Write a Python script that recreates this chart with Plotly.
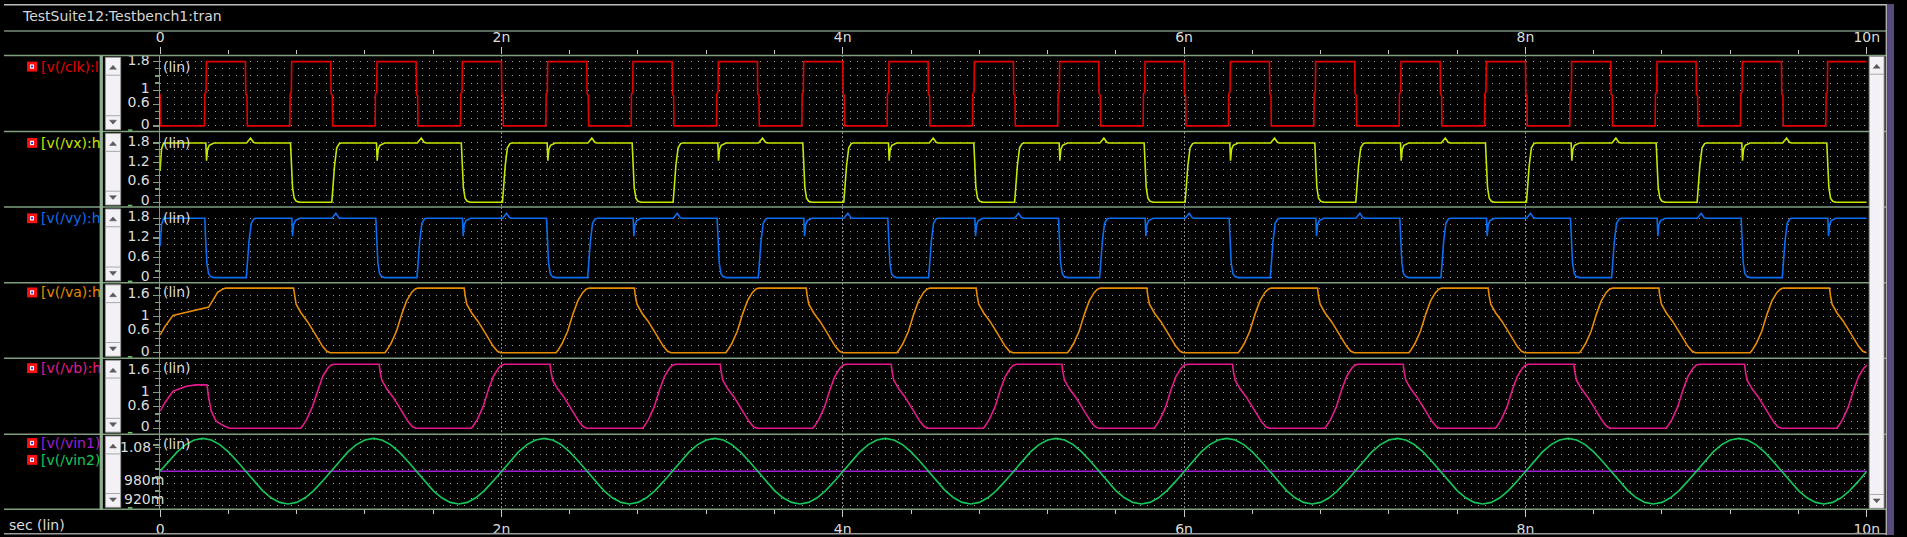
import plotly.graph_objects as go

W, H = 1907, 537

# ---------------- DATA (time in ns, voltage in V) ----------------
# clk
clk_start_t = [0.0, 0.004]
clk_start_v = [0.9, 0.0]
clk_rise_times = [0.26, 0.76, 1.26, 1.76, 2.26, 2.76, 3.26, 3.76, 4.26, 4.76,
                  5.26, 5.76, 6.26, 6.76, 7.26, 7.76, 8.26, 8.76, 9.26, 9.76]
clk_fall_times = [0.50, 1.00, 1.50, 2.00, 2.50, 3.00, 3.50, 4.00, 4.50, 5.00,
                  5.50, 6.00, 6.50, 7.00, 7.50, 8.00, 8.50, 9.00, 9.50]
clk_rise_dt = [0.0, 0.002, 0.009, 0.011]
clk_rise_v = [0.0, 0.9, 0.95, 1.8]
clk_fall_dt = [0.0, 0.002, 0.009, 0.011]
clk_fall_v = [1.8, 0.9, 0.85, 0.0]

# vx / vy edge shapes (offset from event time)
edge_rise_dt = [0.0, 0.006, 0.016, 0.029, 0.044, 0.055]
edge_rise_v = [0.0, 0.4, 1.1, 1.65, 1.78, 1.8]
edge_fall_dt = [0.0, 0.004, 0.012, 0.022, 0.034, 0.054]
edge_fall_v = [1.8, 1.25, 0.45, 0.12, 0.03, 0.0]
dip_dt = [0.0, 0.004, 0.010, 0.020, 0.048]
dip_v = [1.8, 1.26, 1.60, 1.73, 1.8]
bump_dt = [0.0, 0.023, 0.040, 0.052]
bump_v = [1.8, 1.95, 1.82, 1.8]

vx_start_t = [0.0, 0.008, 0.020]
vx_start_v = [0.95, 1.6, 1.8]
vx_rise_times = [1.006, 2.006, 3.006, 4.006, 5.007, 6.006, 7.006, 8.006, 9.006]
vx_dip_times = [0.268, 1.268, 2.268, 3.268, 4.268, 5.268, 6.268, 7.268, 8.268, 9.268]
vx_bump_times = [0.507, 1.507, 2.507, 3.507, 4.507, 5.507, 6.507, 7.507, 8.507, 9.507]
vx_fall_times = [0.764, 1.765, 2.766, 3.766, 4.768, 5.766, 6.766, 7.766, 8.766, 9.766]

vy_start_t = [0.0, 0.008, 0.020]
vy_start_v = [0.95, 1.6, 1.8]
vy_fall_times = [0.262, 1.264, 2.264, 3.264, 4.264, 5.264, 6.264, 7.264, 8.264, 9.264]
vy_rise_times = [0.505, 1.505, 2.505, 3.505, 4.503, 5.505, 6.505, 7.505, 8.505, 9.505]
vy_dip_times = [0.772, 1.772, 2.772, 3.772, 4.774, 5.772, 6.772, 7.772, 8.772, 9.772]
vy_bump_times = [1.007, 2.007, 3.007, 4.007, 5.007, 6.007, 7.007, 8.007, 9.007]

# va / vb slow edge shapes
slow_rise_dt = [0.0, 0.010, 0.035, 0.068, 0.100, 0.128, 0.157, 0.176, 0.194]
slow_rise_v = [0.0, 0.06, 0.25, 0.60, 1.09, 1.45, 1.68, 1.77, 1.8]
slow_fall_dt = [0.0, 0.005, 0.015, 0.045, 0.080, 0.110, 0.140, 0.170, 0.195, 0.215]
slow_fall_v = [1.8, 1.6, 1.35, 1.10, 0.88, 0.65, 0.42, 0.18, 0.04, 0.0]

va_start_t = [0.0, 0.027, 0.076, 0.153, 0.231, 0.285, 0.308, 0.337, 0.366, 0.385]
va_start_v = [0.49, 0.72, 1.04, 1.13, 1.22, 1.27, 1.45, 1.68, 1.77, 1.8]
va_rise_times = [1.317, 2.320, 3.314, 4.317, 5.317, 6.317, 7.317, 8.317, 9.317]
va_fall_times = [0.782, 1.782, 2.779, 3.786, 4.782, 5.782, 6.782, 7.782, 8.782, 9.782]

vb_start_t = [0.0, 0.010, 0.027, 0.076, 0.153, 0.210, 0.275, 0.283, 0.300, 0.328, 0.376, 0.405]
vb_start_v = [0.48, 0.58, 0.71, 1.04, 1.18, 1.22, 1.22, 0.90, 0.48, 0.20, 0.06, 0.0]
vb_rise_times = [0.824, 1.824, 2.827, 3.825, 4.824, 5.824, 6.824, 7.824, 8.824, 9.824]
vb_fall_times = [1.284, 2.285, 3.282, 4.284, 5.284, 6.284, 7.284, 8.284, 9.284]

# vin1 / vin2
vin1_t = [0.0, 10.0]
vin1_v = [1.0, 1.0]
vin2_cycle_dt = [0.00, 0.05, 0.10, 0.15, 0.20, 0.25, 0.30, 0.35, 0.40, 0.45,
                 0.50, 0.55, 0.60, 0.65, 0.70, 0.75, 0.80, 0.85, 0.90, 0.95]
vin2_cycle_v = [1.000, 1.031, 1.059, 1.081, 1.095, 1.100, 1.095, 1.081, 1.059, 1.031,
                1.000, 0.969, 0.941, 0.919, 0.905, 0.900, 0.905, 0.919, 0.941, 0.969]
vin2_cycle_starts = [0.0, 1.0, 2.0, 3.0, 4.0, 5.0, 6.0, 7.0, 8.0, 9.0]
vin2_end = (10.0, 1.0)

x_tick_vals = [0, 2, 4, 6, 8, 10]
x_tick_text = ["0", "2n", "4n", "6n", "8n", "10n"]

panel_names = ["[v(/clk):l", "[v(/vx):h", "[v(/vy):h", "[v(/va):h", "[v(/vb):h"]
vin_names = ["[v(/vin1)", "[v(/vin2)"]
y_tick_vals = [[0, 0.6, 1, 1.8], [0, 0.6, 1.2, 1.8], [0, 0.6, 1.2, 1.8],
               [0, 0.6, 1, 1.6], [0, 0.6, 1, 1.6], [0.92, 0.98, 1.08]]
y_tick_text = [["0", "0.6", "1", "1.8"], ["0", "0.6", "1.2", "1.8"], ["0", "0.6", "1.2", "1.8"],
               ["0", "0.6", "1", "1.6"], ["0", "0.6", "1", "1.6"], ["920m", "980m", "1.08"]]


def build(start_t, start_v, events, t_end=10.0):
    ts, vs = list(start_t), list(start_v)
    for t0, dts, vals in sorted(events, key=lambda e: e[0]):
        for d, v in zip(dts, vals):
            ts.append(t0 + d)
            vs.append(v)
    if ts[-1] < t_end:
        ts.append(t_end)
        vs.append(vs[-1])
    return ts, vs


clk_t, clk_v = build(clk_start_t, clk_start_v,
                     [(t, clk_rise_dt, clk_rise_v) for t in clk_rise_times] +
                     [(t, clk_fall_dt, clk_fall_v) for t in clk_fall_times])
vx_t, vx_v = build(vx_start_t, vx_start_v,
                   [(t, edge_rise_dt, edge_rise_v) for t in vx_rise_times] +
                   [(t, dip_dt, dip_v) for t in vx_dip_times] +
                   [(t, bump_dt, bump_v) for t in vx_bump_times] +
                   [(t, edge_fall_dt, edge_fall_v) for t in vx_fall_times])
vy_t, vy_v = build(vy_start_t, vy_start_v,
                   [(t, edge_rise_dt, edge_rise_v) for t in vy_rise_times] +
                   [(t, dip_dt, dip_v) for t in vy_dip_times] +
                   [(t, bump_dt, bump_v) for t in vy_bump_times] +
                   [(t, edge_fall_dt, edge_fall_v) for t in vy_fall_times])
va_t, va_v = build(va_start_t, va_start_v,
                   [(t, slow_rise_dt, slow_rise_v) for t in va_rise_times] +
                   [(t, slow_fall_dt, slow_fall_v) for t in va_fall_times])
vb_t, vb_v = build(vb_start_t, vb_start_v,
                   [(t, slow_rise_dt, slow_rise_v) for t in vb_rise_times] +
                   [(t, slow_fall_dt, slow_fall_v) for t in vb_fall_times])
vin2_t, vin2_v = [], []
for s in vin2_cycle_starts:
    for d, v in zip(vin2_cycle_dt, vin2_cycle_v):
        vin2_t.append(s + d)
        vin2_v.append(v)
vin2_t.append(vin2_end[0])
vin2_v.append(vin2_end[1])

# ---------------- STYLE / LAYOUT ----------------
FONT = "DejaVu Sans"
GREEN = "#7f9f7f"
TXT = "#dcdcdc"
DOT = "#a0a0a0"
colors = ["#e60000", "#c8e600", "#0a6ef0", "#e68c00", "#e6198c"]
vin_colors = ["#a01ed2", "#14c85a"]

panels = [(52, 129), (129, 205.3), (205.3, 282), (282, 358.3), (358.3, 435), (435, 511)]
y_ranges = [[-0.158, 1.974], [-0.144, 2.145], [-0.159, 2.142],
            [-0.154, 1.946], [-0.167, 1.967], [0.884, 1.113]]
minor_vals = [[round(0.2 * i, 1) for i in range(10)]] * 5 + [[0.8952 + 0.02226 * i for i in range(10)]]
X0, X1 = 157.5, 1879.5


def fx(x):
    return x / W


def fy(y):
    return 1 - y / H


fig = go.Figure()
series = [(clk_t, clk_v, colors[0]), (vx_t, vx_v, colors[1]), (vy_t, vy_v, colors[2]),
          (va_t, va_v, colors[3]), (vb_t, vb_v, colors[4])]
for i, (t, v, c) in enumerate(series):
    fig.add_trace(go.Scatter(x=t, y=v, mode="lines", line=dict(color=c, width=1.6),
                             xaxis="x" if i == 0 else f"x{i+1}",
                             yaxis="y" if i == 0 else f"y{i+1}", hoverinfo="skip"))
fig.add_trace(go.Scatter(x=vin1_t, y=vin1_v, mode="lines", line=dict(color=vin_colors[0], width=1.6),
                         xaxis="x6", yaxis="y6", hoverinfo="skip"))
fig.add_trace(go.Scatter(x=vin2_t, y=vin2_v, mode="lines", line=dict(color=vin_colors[1], width=1.6),
                         xaxis="x6", yaxis="y6", hoverinfo="skip"))

layout = dict(width=W, height=H, margin=dict(l=0, r=0, t=0, b=0, pad=0),
              paper_bgcolor="black", plot_bgcolor="black", showlegend=False,
              font=dict(family=FONT, color=TXT, size=14))

for i, (top, bot) in enumerate(panels):
    xn = "xaxis" if i == 0 else f"xaxis{i+1}"
    yn = "yaxis" if i == 0 else f"yaxis{i+1}"
    yid = "y" if i == 0 else f"y{i+1}"
    xid = "x" if i == 0 else f"x{i+1}"
    xa = dict(domain=[fx(X0), fx(X1)], range=[0, 10], anchor=yid, zeroline=False,
              showgrid=True, gridcolor="#8c8c8c", griddash="2px,2px", gridwidth=1,
              tickmode="array", tickvals=x_tick_vals, ticktext=x_tick_text,
              showticklabels=False, ticks="", fixedrange=True)
    if i == 0 or i == 5:
        xa.update(showticklabels=True, ticks="outside", ticklen=7, tickcolor="#c8c8c8",
                  tickwidth=1, side="top" if i == 0 else "bottom",
                  tickfont=dict(family=FONT, size=14, color=TXT),
                  minor=dict(dtick=0.4, tick0=0, ticks="outside", ticklen=4,
                             tickcolor="#c8c8c8", showgrid=False))
    layout[xn] = xa
    ya = dict(domain=[fy(bot), fy(top)], range=y_ranges[i], anchor=xid, zeroline=False,
              tickmode="array", tickvals=y_tick_vals[i], ticktext=y_tick_text[i],
              ticks="outside", ticklen=6, tickcolor=GREEN, tickwidth=1.2,
              tickfont=dict(family=FONT, size=14, color=TXT), ticklabelshift=-2,
              showticklabels=(i < 5),
              showline=True, linecolor=GREEN, linewidth=1.5,
              showgrid=(i < 5), gridcolor=DOT, griddash="1px,5.9px", gridwidth=1,
              minor=dict(tickmode="array", tickvals=minor_vals[i], ticks="outside",
                         ticklen=4, tickcolor=GREEN, showgrid=True, gridcolor=DOT,
                         griddash="1px,5.9px", gridwidth=1),
              fixedrange=True)
    layout[yn] = ya

shapes = []


def hline(y, x0=0, x1=1899, color=GREEN, width=1.5):
    shapes.append(dict(type="line", xref="paper", yref="paper", x0=fx(x0), x1=fx(x1),
                       y0=fy(y), y1=fy(y), line=dict(color=color, width=width)))


def rect(x0, y0, x1, y1, fill, line=None, lw=1):
    shapes.append(dict(type="rect", xref="paper", yref="paper", x0=fx(x0), x1=fx(x1),
                       y0=fy(y1), y1=fy(y0), fillcolor=fill,
                       line=dict(color=line or fill, width=lw if line else 0)))


def tri(cx, cy, up):
    if up:
        pts = [(cx - 3.5, cy + 2), (cx + 3.5, cy + 2), (cx, cy - 2)]
    else:
        pts = [(cx - 3.5, cy - 2), (cx + 3.5, cy - 2), (cx, cy + 2)]
    path = "M " + " L ".join(f"{fx(a):.6f},{fy(b):.6f}" for a, b in pts) + " Z"
    shapes.append(dict(type="path", xref="paper", yref="paper", path=path,
                       fillcolor="#5a5a5a", line=dict(color="#5a5a5a", width=0.5)))


def scrollbar(x0, x1, top, bot):
    rect(x0, top, x1, bot, "#f3f1f5", "#9c9c9c", 1)
    hline(top + 18, x0, x1, "#a8a8a8", 1)
    hline(bot - 14, x0, x1, "#a8a8a8", 1)
    tri((x0 + x1) / 2, top + 10, True)
    tri((x0 + x1) / 2, bot - 7.5, False)


hline(0.7, 0, 1899, "#bdbdbd", 1.5)
hline(27.3, 0, 1899, "#7a8c7a", 1.5)
hline(52, 0, 1899)
for top, bot in panels:
    hline(bot)
    hline(bot - 1.5, 125, 129.5, "#6fbf6f", 1.5)
hline(535.7, 0, 1899, "#9a9a9a", 1.5)
rect(96.5, 52, 99.8, 511, "#8fae8f")
for top, bot in panels:
    scrollbar(102.3, 117.7, top + 2, bot - 2)
scrollbar(1882, 1897, 53, 510)
shapes.append(dict(type="line", xref="paper", yref="paper", x0=fx(1899.2), x1=fx(1899.2),
                   y0=0, y1=1, line=dict(color="#c8c8c8", width=1.2)))
rect(1900, 0, 1907, 537, "#584a7c")

annotations = []


def text(x, y, s, color=TXT, size=14, anchor="left"):
    annotations.append(dict(x=fx(x), y=fy(y), xref="paper", yref="paper", text=s,
                            showarrow=False, xanchor=anchor, yanchor="middle",
                            font=dict(family=FONT, size=size, color=color)))


def icon(y):
    rect(23.3, y - 5, 33.3, y + 5, "#ff1010")
    rect(26.3, y - 2.2, 30.3, y + 2.2, "#ffffff")
    rect(27.4, y - 1.0, 29.2, y + 1.0, "#2020ff")


text(16, 12.5, "TestSuite12:Testbench1:tran", "#d6d6d6", 14)
label_y = [63.3, 140.5, 216.7, 291.7, 368.3]
for name, c, y in zip(panel_names, colors, label_y):
    icon(y)
    text(35, y, name, c, 14)
    text(158.5, y, "(lin)", TXT, 14)
for name, c, y in zip(vin_names, vin_colors, [444, 461]):
    icon(y)
    text(35, y, name, c, 14)
text(158.5, 445, "(lin)", TXT, 14)
text(3, 527, "sec (lin)", TXT, 14)

# vin axis labels (Cadence places the long ones overlapping the axis)
for v, s in zip(y_tick_vals[5], y_tick_text[5]):
    long_label = s.endswith("m")
    annotations.append(dict(x=fx(119.5 if long_label else 150.5), y=v, xref="paper", yref="y6",
                            text=s, showarrow=False, xanchor="left" if long_label else "right",
                            yanchor="middle", yshift=-2,
                            font=dict(family=FONT, size=14, color=TXT)))

layout["shapes"] = shapes
layout["annotations"] = annotations
fig.update_layout(**layout)

fig.write_html("out.html", config={"displayModeBar": False, "staticPlot": True},
               post_script="document.body.style.margin='0';document.body.style.overflow='hidden';")
